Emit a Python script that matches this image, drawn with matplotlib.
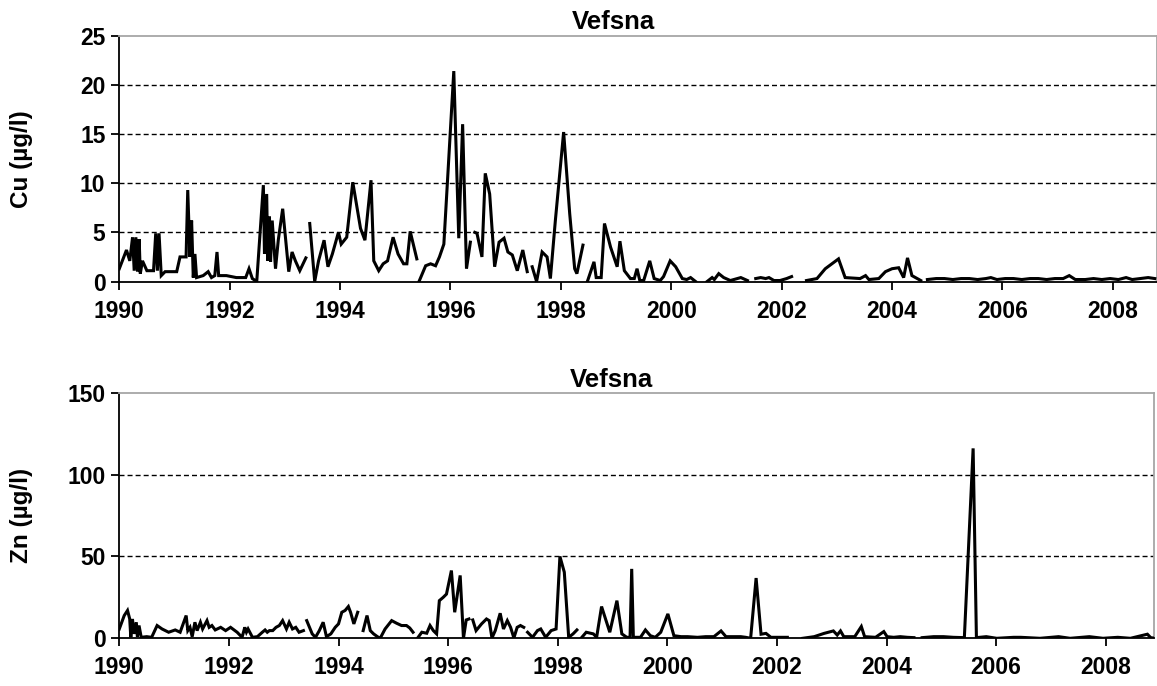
import numpy as np
import matplotlib
matplotlib.use("Agg")
import matplotlib.pyplot as plt

N = None  # gap marker

# ---------------- Cu (top panel) ----------------
cu_year = [
    1990.00, 1990.13, 1990.19, 1990.24, 1990.27, 1990.30, 1990.33, 1990.36, 1990.38, 1990.42,
    1990.50, 1990.62, 1990.66, 1990.69, 1990.72, 1990.76, 1990.83, 1991.04, 1991.10, 1991.21,
    1991.24, 1991.28, 1991.31, 1991.34, 1991.37, 1991.40, 1991.52, 1991.61, 1991.67, 1991.73,
    1991.77, 1991.80, 1991.94, 1992.12, 1992.29, 1992.35, 1992.41, 1992.49, 1992.61, 1992.63,
    1992.67, 1992.69, 1992.72, 1992.74, 1992.77, 1992.83, 1992.88, 1992.96, 1993.07, 1993.13,
    1993.19, 1993.27, 1993.38, 1993.42,
    1993.45, 1993.54, 1993.61, 1993.71, 1993.78, 1993.86, 1993.97, 1994.02, 1994.12, 1994.23,
    1994.37, 1994.45, 1994.56, 1994.61, 1994.70, 1994.78, 1994.86, 1994.96, 1995.05, 1995.15,
    1995.21, 1995.27, 1995.39, 1995.41,
    1995.43, 1995.55, 1995.64, 1995.73, 1995.80, 1995.88, 1996.06, 1996.15, 1996.22, 1996.29,
    1996.36, 1996.40,
    1996.44, 1996.48, 1996.57, 1996.63, 1996.71, 1996.80, 1996.88, 1996.97, 1997.04, 1997.12,
    1997.21, 1997.31, 1997.39, 1997.44,
    1997.48, 1997.56, 1997.66, 1997.75, 1997.81, 1997.90, 1998.05, 1998.16, 1998.25, 1998.29,
    1998.40, 1998.44,
    1998.48, 1998.60, 1998.64, 1998.73, 1998.79, 1998.90, 1999.02, 1999.07, 1999.15, 1999.26,
    1999.33, 1999.38, 1999.43, 1999.50, 1999.61, 1999.69, 1999.80, 1999.86, 1999.98, 2000.08,
    2000.20, 2000.28, 2000.35, 2000.44, 2000.55,
    2000.65, 2000.74, 2000.78, 2000.86, 2000.95, 2001.07, 2001.26, 2001.38, 2001.45,
    2001.53, 2001.62, 2001.71, 2001.77, 2001.86, 2001.97, 2002.09, 2002.18, 2002.30,
    2002.45, 2002.64, 2002.79, 2003.03, 2003.15, 2003.42, 2003.52, 2003.58, 2003.76, 2003.88,
    2004.00, 2004.12, 2004.21, 2004.28, 2004.36, 2004.52, 2004.58,
    2004.64, 2004.80, 2004.95, 2005.10, 2005.25, 2005.40, 2005.55, 2005.70, 2005.79, 2005.90,
    2006.05, 2006.20, 2006.35, 2006.50, 2006.65, 2006.80, 2006.95, 2007.10, 2007.21, 2007.32,
    2007.50, 2007.65, 2007.80, 2007.95, 2008.10, 2008.24, 2008.35, 2008.50, 2008.64, 2008.76,
]
cu_value = [
    1.3, 3.2, 2.1, 4.5, 1.1, 4.5, 1.0, 4.3, 0.8, 2.1,
    1.1, 1.1, 4.9, 1.1, 4.9, 0.6, 1.0, 1.0, 2.5, 2.5,
    9.3, 2.5, 6.2, 0.4, 2.8, 0.4, 0.6, 1.0, 0.4, 0.6,
    3.0, 0.6, 0.6, 0.4, 0.4, 1.3, 0.3, 0.0, 9.8, 2.8,
    8.9, 2.1, 6.6, 2.0, 6.2, 1.3, 4.2, 7.4, 1.0, 3.0,
    2.1, 1.1, 2.4, N,
    5.9, 0.0, 2.1, 4.2, 1.5, 2.8, 5.0, 3.8, 4.5, 10.1,
    5.4, 4.2, 10.3, 2.1, 1.1, 1.8, 2.1, 4.5, 2.8, 1.8,
    1.8, 5.1, 2.3, N,
    0.0, 1.6, 1.8, 1.6, 2.5, 3.8, 21.4, 4.4, 16.0, 1.3,
    4.0, N,
    5.0, 4.9, 2.5, 11.0, 8.9, 1.5, 4.0, 4.4, 3.0, 2.7,
    1.1, 3.2, 1.0, N,
    1.5, 0.0, 3.0, 2.5, 0.3, 6.2, 15.2, 6.9, 1.3, 0.8,
    3.7, N,
    0.0, 2.0, 0.4, 0.4, 5.9, 3.5, 1.5, 4.1, 1.1, 0.3,
    0.3, 1.3, 0.1, 0.1, 2.1, 0.3, 0.1, 0.5, 2.1, 1.5,
    0.3, 0.2, 0.4, 0.0, N,
    0.0, 0.4, 0.2, 0.8, 0.4, 0.1, 0.4, 0.1, N,
    0.3, 0.4, 0.3, 0.4, 0.1, 0.1, 0.3, 0.5, N,
    0.1, 0.3, 1.3, 2.3, 0.4, 0.3, 0.6, 0.2, 0.3, 1.0,
    1.3, 1.4, 0.4, 2.4, 0.6, 0.1, N,
    0.2, 0.3, 0.3, 0.2, 0.3, 0.3, 0.2, 0.3, 0.4, 0.2,
    0.3, 0.3, 0.2, 0.3, 0.3, 0.2, 0.3, 0.3, 0.6, 0.2,
    0.2, 0.3, 0.2, 0.3, 0.2, 0.4, 0.2, 0.3, 0.4, 0.3,
]

# ---------------- Zn (bottom panel) ----------------
zn_year = [
    1990.00, 1990.09, 1990.15, 1990.19, 1990.21, 1990.24, 1990.27, 1990.31, 1990.33, 1990.36,
    1990.40, 1990.50, 1990.59, 1990.69, 1990.78, 1990.90, 1991.02, 1991.11, 1991.22, 1991.25,
    1991.29, 1991.33, 1991.38, 1991.42, 1991.48, 1991.52, 1991.60, 1991.64, 1991.69, 1991.75,
    1991.85, 1991.94, 1992.03, 1992.15, 1992.24, 1992.29, 1992.32, 1992.35, 1992.43, 1992.52,
    1992.61, 1992.66, 1992.70, 1992.74, 1992.80, 1992.86, 1992.92, 1992.98, 1993.05, 1993.10,
    1993.16, 1993.22, 1993.28, 1993.36, 1993.39,
    1993.42, 1993.52, 1993.58, 1993.65, 1993.72, 1993.78, 1993.86, 1993.94, 1994.00, 1994.06,
    1994.12, 1994.18, 1994.22, 1994.28, 1994.35, 1994.40,
    1994.45, 1994.52, 1994.58, 1994.64, 1994.71, 1994.76, 1994.85, 1994.97, 1995.06, 1995.15,
    1995.24, 1995.30, 1995.36, 1995.40,
    1995.44, 1995.52, 1995.61, 1995.67, 1995.73, 1995.79, 1995.84, 1995.91, 1995.97, 1996.06,
    1996.12, 1996.22, 1996.28, 1996.33, 1996.38, 1996.41,
    1996.45, 1996.51, 1996.61, 1996.70, 1996.75, 1996.80, 1996.86, 1996.95, 1997.01, 1997.08,
    1997.14, 1997.20, 1997.26, 1997.32, 1997.38, 1997.41,
    1997.45, 1997.54, 1997.63, 1997.69, 1997.78, 1997.88, 1997.97, 1998.04, 1998.12, 1998.20,
    1998.28, 1998.35, 1998.39,
    1998.43, 1998.52, 1998.65, 1998.71, 1998.80, 1998.95, 1999.08, 1999.17, 1999.26, 1999.32,
    1999.35, 1999.38, 1999.51, 1999.60, 1999.69, 1999.78, 1999.88, 2000.01, 2000.12, 2000.25,
    2000.37, 2000.55, 2000.70, 2000.85, 2000.98, 2001.07, 2001.22, 2001.34, 2001.43, 2001.52,
    2001.62, 2001.71, 2001.80, 2001.89, 2002.01, 2002.19, 2002.30,
    2002.47, 2002.68, 2002.86, 2003.03, 2003.10, 2003.16, 2003.22, 2003.35, 2003.42, 2003.54,
    2003.60, 2003.80, 2003.95, 2004.01, 2004.13, 2004.25, 2004.38, 2004.50, 2004.57,
    2004.65, 2004.86, 2005.04, 2005.22, 2005.42, 2005.58, 2005.64, 2005.82, 2006.01, 2006.32,
    2006.45, 2006.56, 2006.80, 2007.14, 2007.35, 2007.70, 2007.95, 2008.22, 2008.45, 2008.76,
    2008.82, 2008.90,
]
zn_value = [
    5.7, 13.9, 17.0, 11.8, 0.6, 11.8, 2.7, 9.8, 1.0, 7.8,
    0.6, 1.0, 0.6, 7.8, 5.7, 3.7, 5.1, 3.7, 13.9, 4.7,
    6.7, 1.0, 9.8, 4.7, 9.8, 5.7, 10.8, 6.7, 7.8, 5.1,
    6.7, 4.7, 6.7, 3.7, 0.6, 6.7, 3.7, 5.7, 0.6, 1.0,
    3.7, 5.1, 3.7, 4.7, 4.7, 6.7, 7.8, 10.8, 5.7, 9.8,
    5.7, 6.7, 3.7, 4.7, N,
    10.8, 2.7, 0.6, 4.7, 9.8, 1.0, 2.7, 6.7, 8.8, 15.9,
    17.0, 19.4, 15.9, 8.8, 15.9, N,
    4.7, 13.9, 4.7, 2.7, 1.0, 0.0, 5.7, 10.8, 9.2, 7.8,
    7.8, 6.3, 3.7, N,
    0.0, 3.7, 3.1, 7.8, 4.7, 2.7, 23.0, 25.0, 27.0, 41.4,
    15.9, 38.4, 0.0, 11.2, 11.8, N,
    11.2, 4.7, 8.8, 11.8, 10.8, 0.2, 4.7, 15.3, 5.7, 10.8,
    6.7, 0.2, 6.7, 7.8, 6.7, N,
    3.7, 0.6, 4.7, 5.7, 0.6, 4.7, 5.7, 50.0, 40.4, 0.6,
    2.7, 5.1, N,
    0.2, 3.7, 2.7, 0.6, 19.4, 3.7, 23.0, 2.7, 0.6, 0.6,
    42.4, 0.6, 0.6, 5.1, 1.6, 0.6, 3.7, 14.9, 1.6, 1.0,
    1.0, 0.6, 1.0, 1.0, 4.5, 1.0, 1.0, 1.0, 0.6, 0.0,
    36.8, 2.5, 3.0, 0.6, 0.6, 0.6, N,
    0.0, 1.0, 3.0, 4.5, 2.0, 4.5, 1.0, 1.0, 1.0, 7.2,
    1.0, 0.6, 4.1, 1.0, 0.6, 1.0, 0.6, 0.4, N,
    0.4, 1.0, 1.0, 0.6, 0.4, 116.0, 0.4, 1.0, 0.0, 0.6,
    0.6, 0.4, 0.0, 1.0, 0.0, 1.0, 0.0, 0.6, 0.0, 2.5,
    0.4, 0.0,
]

cu_ticks = [0, 5, 10, 15, 20, 25]
zn_ticks = [0, 50, 100, 150]
year_ticks = [1990, 1992, 1994, 1996, 1998, 2000, 2002, 2004, 2006, 2008]
panel_title = "Vefsna"
cu_label = "Cu (µg/l)"
zn_label = "Zn (µg/l)"

plt.rcParams['font.family'] = ['Liberation Sans', 'DejaVu Sans']
plt.rcParams['font.weight'] = 'bold'

W, H = 1157, 686
fig = plt.figure(figsize=(W / 100, H / 100), dpi=100)


def box(l, t, r, b):
    return [l / W, 1 - b / H, (r - l) / W, (b - t) / H]


ax1 = fig.add_axes(box(119.3, 35.7, 1157, 281.5))
ax2 = fig.add_axes(box(119.3, 392.7, 1154.3, 638.3))


def to_arr(v):
    return np.array([np.nan if x is None else x for x in v], dtype=float)


def style(ax, ticks, ymax, xmax):
    ax.set_xlim(1990, xmax)
    ax.set_ylim(0, ymax)
    ax.set_yticks(ticks)
    ax.set_xticks(year_ticks)
    ax.set_xticklabels([str(y) for y in year_ticks])
    for t in ticks[1:-1]:
        ax.axhline(t, color='black', lw=1.0, ls=(0, (3.6, 2.2)), zorder=1)
    for s in ['top', 'right']:
        ax.spines[s].set_color('#a6a6a6')
        ax.spines[s].set_linewidth(1.3)
    for s in ['left', 'bottom']:
        ax.spines[s].set_color('black')
        ax.spines[s].set_linewidth(1.3)
    ax.tick_params(axis='both', direction='out', length=6, width=1.3, color='black',
                   labelsize=16.5, top=False, right=False)
    ax.tick_params(axis='x', pad=7)
    ax.tick_params(axis='y', pad=4)
    for lab in ax.get_xticklabels() + ax.get_yticklabels():
        lab.set_fontweight('bold')


ax1.plot(cu_year, to_arr(cu_value), color='black', lw=2.2, solid_joinstyle='miter', zorder=3)
style(ax1, cu_ticks, 25, 2008.80)
ax2.plot(zn_year, to_arr(zn_value), color='black', lw=2.2, solid_joinstyle='miter', zorder=3)
style(ax2, zn_ticks, 150, 2008.886)

fig.text(613 / W, 1 - 22 / H, panel_title, ha='center', va='center', fontsize=18.5, fontweight='bold')
fig.text(611 / W, 1 - 380 / H, panel_title, ha='center', va='center', fontsize=18.5, fontweight='bold')
fig.text(22 / W, 1 - 159 / H, cu_label, ha='center', va='center', rotation=90, fontsize=17.5, fontweight='bold')
fig.text(22 / W, 1 - 515 / H, zn_label, ha='center', va='center', rotation=90, fontsize=17.5, fontweight='bold')

fig.savefig("out.png", dpi=100)
